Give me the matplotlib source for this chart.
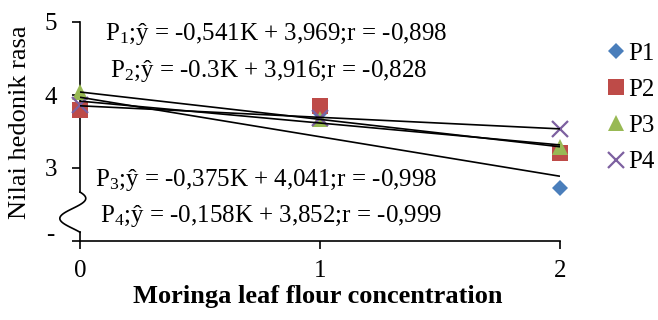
import numpy as np
import matplotlib
matplotlib.use("Agg")
import matplotlib.pyplot as plt
from matplotlib.lines import Line2D

plt.rcParams['font.family'] = ['Liberation Serif', 'DejaVu Serif']
plt.rcParams['mathtext.fontset'] = 'custom'
plt.rcParams['mathtext.rm'] = 'Liberation Serif'
plt.rcParams['mathtext.it'] = 'Liberation Serif:italic'
plt.rcParams['mathtext.bf'] = 'Liberation Serif:bold'

# Data
concentration = [0, 1, 2]
series = ['P1', 'P2', 'P3', 'P4']
P1 = [3.80, 3.76, 2.72]
P2 = [3.80, 3.85, 3.20]
P3 = [4.04, 3.67, 3.29]
P4 = [3.86, 3.69, 3.54]
slopes = [-0.541, -0.3, -0.375, -0.158]
intercepts = [3.969, 3.916, 4.041, 3.852]
equations = [
    "P$_1$;ŷ = -0,541K + 3,969;r = -0,898",
    "P$_2$;ŷ = -0.3K + 3,916;r = -0,828",
    "P$_3$;ŷ = -0,375K + 4,041;r = -0,998",
    "P$_4$;ŷ = -0,158K + 3,852;r = -0,999",
]
yticks = [2, 3, 4, 5]
ytick_labels = ['', '3', '4', '5']
xticks = [0, 1, 2]

colors = ['#4A7EBB', '#BE4B48', '#98B954', '#7D60A0']
markers = ['D', 's', '^', 'x']
msizes = [8.5, 12, 12, 11]

W, H = 658, 320
fig = plt.figure(figsize=(W / 100, H / 100), dpi=100)
ax = fig.add_axes([80 / W, 1 - 241 / H, 480 / W, 219 / H])
ax.set_xlim(0, 2)
ax.set_ylim(2, 5)

FS = 18
FSL = 19

values = [P1, P2, P3, P4]
for i, (name, vals) in enumerate(zip(series, values)):
    kw = dict(marker=markers[i], linestyle='none', markersize=msizes[i],
              color=colors[i], clip_on=False, zorder=3 + i, label=name)
    if markers[i] == 'x':
        kw['markeredgewidth'] = 1.6
    else:
        kw['markeredgewidth'] = 0
    ax.plot(concentration, vals, **kw)

xs = np.array([0, 2])
for s, b in zip(slopes, intercepts):
    ax.plot(xs, s * xs + b, color='black', lw=1.2, zorder=10, solid_capstyle='butt')

# axes styling
for sp in ['top', 'right']:
    ax.spines[sp].set_visible(False)
ax.spines['left'].set_linewidth(1.2)
ax.spines['bottom'].set_linewidth(1.2)
ax.spines['left'].set_bounds(2.67, 5)
ax.set_yticks(yticks)
ax.set_yticklabels(ytick_labels)
ax.set_xticks(xticks)
ax.set_xticklabels([str(x) for x in xticks])
ax.tick_params(axis='both', direction='out', length=5.5, width=1.2, labelsize=FS)
ax.tick_params(axis='y', pad=11)
ax.tick_params(axis='x', pad=8)

# axis break (wavy)
t = np.linspace(0, 1, 60)
ybrk = 2.67 - t * (2.67 - 2.12)
xoff = 0.045 * np.sin(2 * np.pi * t) - 0.03 * (1 - np.cos(2 * np.pi * t))
ax.plot(xoff, ybrk, color='black', lw=1.2, clip_on=False, zorder=11)
ax.plot([0, 0], [2.12, 2.0], color='black', lw=1.2, clip_on=False, zorder=11)
fig.text(50 / W, 1 - 235 / H, '-', fontsize=FS, ha='center', va='center')

# labels
fig.text(20 / W, 1 - 122 / H, 'Nilai hedonik rasa', rotation=90, fontsize=FSL,
         ha='center', va='center')
fig.text(318 / W, 1 - 296 / H, 'Moringa leaf flour concentration', fontsize=FSL,
         fontweight='bold', ha='center', va='center')

# equations
eq_pos = [(105, 40), (110, 77), (95, 186), (100, 222)]
for txt, (px, py) in zip(equations, eq_pos):
    fig.text(px / W, 1 - py / H, txt, fontsize=FS, ha='left', va='baseline', zorder=20)

# legend
handles = [Line2D([], [], marker=markers[i], linestyle='none', markersize=msizes[i],
                  color=colors[i], markeredgewidth=(1.6 if markers[i] == 'x' else 0))
           for i in range(4)]
fig.legend(handles, series, loc='upper left', bbox_to_anchor=(607 / W, 1 - 42 / H),
           frameon=False, fontsize=FS, handlelength=0.7, handletextpad=0.15,
           labelspacing=0.55, borderpad=0, borderaxespad=0)

fig.savefig('out.png', dpi=100)
